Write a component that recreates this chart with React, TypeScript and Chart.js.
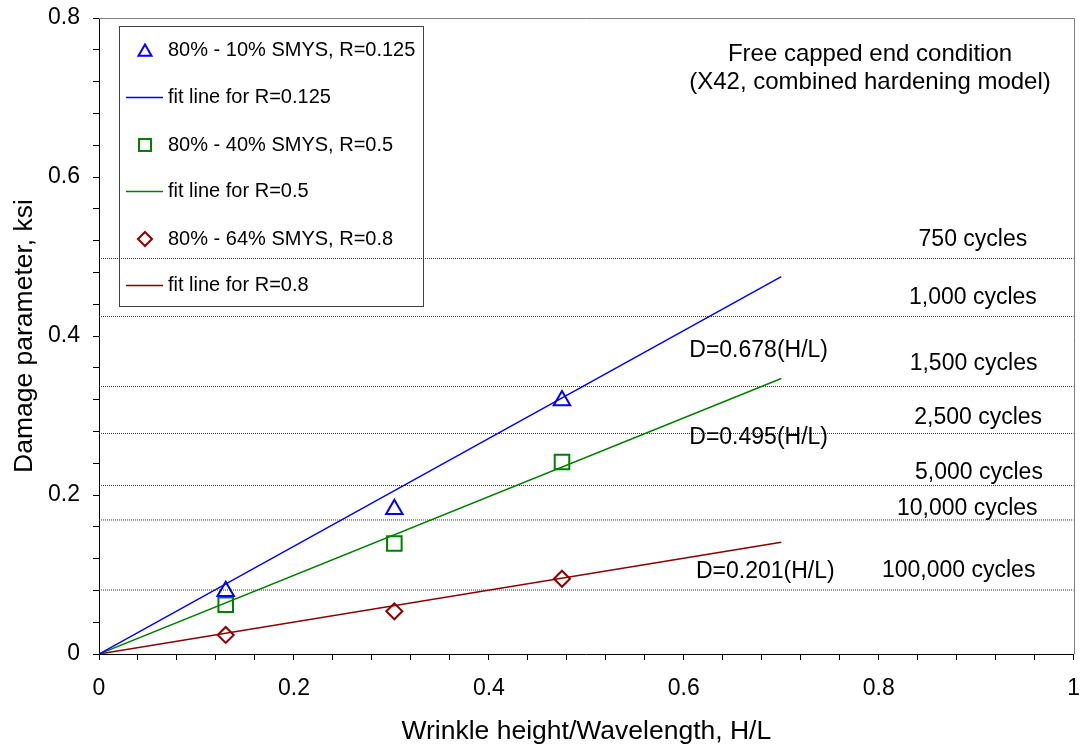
import React, { useEffect, useRef } from 'react';
import { Chart, registerables } from 'chart.js';

Chart.register(...registerables);

const FONT = '"Liberation Sans", Arial, Helvetica, sans-serif';

// ---- data ----
const hlRatios = [0.13, 0.303, 0.475];
const damageR0125 = [0.079, 0.182, 0.319];
const damageR05 = [0.062, 0.139, 0.2415];
const damageR08 = [0.024, 0.0537, 0.0947];

const fitX = [0, 0.7];
const fitR0125 = [0, 0.4746];
const fitR05 = [0, 0.3465];
const fitR08 = [0, 0.1407];

const cycleLabels = ['750 cycles', '1,000 cycles', '1,500 cycles', '2,500 cycles', '5,000 cycles', '10,000 cycles', '100,000 cycles'];
const cycleLevels = [0.4975, 0.4245, 0.3365, 0.2774, 0.2119, 0.1686, 0.0805];

const fitLabels = ['D=0.678(H/L)', 'D=0.495(H/L)', 'D=0.201(H/L)'];

const legendLabels = [
  '80% - 10% SMYS, R=0.125',
  'fit line for R=0.125',
  '80% - 40% SMYS, R=0.5',
  'fit line for R=0.5',
  '80% - 64% SMYS, R=0.8',
  'fit line for R=0.8',
];

const titleLines = ['Free capped end condition', '(X42, combined hardening model)'];

const xTickLabels = ['0', '0.2', '0.4', '0.6', '0.8', '1'];
const yTickLabels = ['0', '0.2', '0.4', '0.6', '0.8'];
const xTitle = 'Wrinkle height/Wavelength, H/L';
const yTitle = 'Damage parameter, ksi';

// ---- annotation layout (data coordinates) ----
const cycleLabelPos = [
  [0.8966, 0.5216],
  [0.8966, 0.4487],
  [0.8973, 0.3657],
  [0.902, 0.2977],
  [0.9028, 0.2286],
  [0.8908, 0.1833],
  [0.882, 0.1048],
];
const fitLabelPos = [
  [0.6056, 0.3815],
  [0.6056, 0.2726],
  [0.6124, 0.1035],
];

// ---- styles ----
const BLUE = '#0000ff';
const GREEN = '#008000';
const RED = '#8b0000';

const minorTicks = (max: number, step: number) => {
  const out: { value: number }[] = [];
  const n = Math.round(max / step);
  for (let i = 0; i <= n; i++) out.push({ value: Math.round(i * step * 1e6) / 1e6 });
  return out;
};

const labelFor = (v: number, labels: string[]) => {
  const hit = labels.find((l) => Math.abs(Number(l) - v) < 1e-6);
  return hit === undefined ? '' : hit;
};

const pts = (xs: number[], ys: number[]) => xs.map((x, i) => ({ x, y: ys[i] }));

const overlayPlugin = {
  id: 'overlay',
  afterDraw(chart: any) {
    const { ctx, chartArea, scales } = chart;
    const xs = scales.x;
    const ys = scales.y;
    ctx.save();
    // top/right frame
    ctx.strokeStyle = '#808080';
    ctx.lineWidth = 1;
    ctx.beginPath();
    ctx.moveTo(chartArea.left, Math.round(chartArea.top) + 0.5);
    ctx.lineTo(Math.round(chartArea.right) + 0.5, Math.round(chartArea.top) + 0.5);
    ctx.lineTo(Math.round(chartArea.right) + 0.5, chartArea.bottom);
    ctx.stroke();

    ctx.fillStyle = '#000';
    ctx.textBaseline = 'middle';

    // title
    ctx.font = `24px ${FONT}`;
    ctx.textAlign = 'center';
    ctx.fillText(titleLines[0], 870, 54.5);
    ctx.fillText(titleLines[1], 870, 82);

    // cycle labels
    ctx.font = `23px ${FONT}`;
    cycleLabels.forEach((t, i) => {
      ctx.fillText(t, xs.getPixelForValue(cycleLabelPos[i][0]), ys.getPixelForValue(cycleLabelPos[i][1]));
    });
    // fit labels
    ctx.textAlign = 'left';
    fitLabels.forEach((t, i) => {
      ctx.fillText(t, xs.getPixelForValue(fitLabelPos[i][0]), ys.getPixelForValue(fitLabelPos[i][1]));
    });

    // legend
    const bx = 119.5, by = 26.5, bw = 304, bh = 280;
    ctx.strokeStyle = '#404040';
    ctx.lineWidth = 1;
    ctx.strokeRect(bx, by, bw, bh);
    const rowY = [50, 97.5, 145, 191.5, 239, 285.5];
    const colors = [BLUE, BLUE, GREEN, GREEN, RED, RED];
    const mx = 145;
    ctx.font = `20px ${FONT}`;
    legendLabels.forEach((t, i) => {
      const y = rowY[i];
      ctx.strokeStyle = colors[i];
      if (i % 2 === 1) {
        ctx.lineWidth = 1.5;
        ctx.beginPath();
        ctx.moveTo(126, y);
        ctx.lineTo(163, y);
        ctx.stroke();
      } else {
        ctx.lineWidth = 2;
        ctx.beginPath();
        if (i === 0) {
          const r = 7.5;
          const cy = y + r / 4;
          ctx.moveTo(mx, cy - r);
          ctx.lineTo(mx + r * Math.sin(Math.PI / 3), cy + r / 2);
          ctx.lineTo(mx - r * Math.sin(Math.PI / 3), cy + r / 2);
          ctx.closePath();
        } else if (i === 2) {
          ctx.rect(mx - 6, y - 6, 12, 12);
        } else {
          const r = 7;
          ctx.moveTo(mx - r, y);
          ctx.lineTo(mx, y - r);
          ctx.lineTo(mx + r, y);
          ctx.lineTo(mx, y + r);
          ctx.closePath();
        }
        ctx.stroke();
      }
      ctx.fillStyle = '#000';
      ctx.fillText(t, 168, y);
    });
    ctx.restore();
  },
};

export default function App() {
  const ref = useRef<HTMLCanvasElement | null>(null);

  useEffect(() => {
    if (!ref.current) return;
    Chart.defaults.color = '#000';
    const dotted = cycleLevels.map((v) => ({
      type: 'line' as const,
      data: [
        { x: 0, y: v },
        { x: 1, y: v },
      ],
      borderColor: '#3a3a3a',
      borderWidth: 1,
      borderDash: [1, 1],
      pointRadius: 0,
      showLine: true,
      fill: false,
    }));
    const chart = new Chart(ref.current, {
      type: 'scatter',
      data: {
        datasets: [
          {
            data: pts(hlRatios, damageR0125),
            pointStyle: 'triangle',
            pointRadius: 9.5,
            pointBorderWidth: 2,
            pointBorderColor: BLUE,
            pointBackgroundColor: 'rgba(0,0,0,0)',
            showLine: false,
          },
          {
            data: pts(hlRatios, damageR05),
            pointStyle: 'rect',
            pointRadius: 10.3,
            pointBorderWidth: 2,
            pointBorderColor: GREEN,
            pointBackgroundColor: 'rgba(0,0,0,0)',
            showLine: false,
          },
          {
            data: pts(hlRatios, damageR08),
            pointStyle: 'rectRot',
            pointRadius: 8,
            pointBorderWidth: 2,
            pointBorderColor: RED,
            pointBackgroundColor: 'rgba(0,0,0,0)',
            showLine: false,
          },
          {
            data: pts(fitX, fitR0125),
            showLine: true,
            pointRadius: 0,
            borderColor: BLUE,
            borderWidth: 1.5,
          },
          {
            data: pts(fitX, fitR05),
            showLine: true,
            pointRadius: 0,
            borderColor: GREEN,
            borderWidth: 1.5,
          },
          {
            data: pts(fitX, fitR08),
            showLine: true,
            pointRadius: 0,
            borderColor: RED,
            borderWidth: 1.5,
          },
          ...dotted,
        ] as any,
      },
      options: {
        animation: false,
        responsive: false,
        devicePixelRatio: 1,
        events: [],
        layout: { padding: { top: 18, right: 7, left: 0, bottom: 0 } },
        plugins: { legend: { display: false }, tooltip: { enabled: false } },
        scales: {
          x: {
            type: 'linear',
            min: 0,
            max: 1,
            afterBuildTicks: (s: any) => {
              s.ticks = minorTicks(1, 0.04);
            },
            afterFit: (s: any) => {
              s.height = 95;
              s.paddingLeft = 0;
              s.paddingRight = 0;
            },
            grid: { drawOnChartArea: false, drawTicks: true, tickLength: 6, color: '#000', lineWidth: 1 },
            border: { display: true, color: '#000', width: 1 },
            ticks: {
              autoSkip: false,
              maxRotation: 0,
              minRotation: 0,
              padding: 15,
              color: '#000',
              font: { family: FONT, size: 23 },
              callback: (v: any) => labelFor(Number(v), xTickLabels),
            },
            title: {
              display: true,
              text: xTitle,
              color: '#000',
              font: { family: FONT, size: 26.5 },
              padding: { top: 0, bottom: 1 },
            },
          },
          y: {
            type: 'linear',
            min: 0,
            max: 0.8,
            afterBuildTicks: (s: any) => {
              s.ticks = minorTicks(0.8, 0.04);
            },
            afterFit: (s: any) => {
              s.width = 99;
              s.paddingTop = 0;
              s.paddingBottom = 0;
            },
            grid: { drawOnChartArea: false, drawTicks: true, tickLength: 6, color: '#000', lineWidth: 1 },
            border: { display: true, color: '#000', width: 1 },
            ticks: {
              autoSkip: false,
              padding: 13,
              color: '#000',
              font: { family: FONT, size: 23 },
              callback: (v: any) => labelFor(Number(v), yTickLabels),
            },
            title: {
              display: true,
              text: yTitle,
              color: '#000',
              font: { family: FONT, size: 26.5 },
              padding: { top: 9, bottom: 0 },
            },
          },
        },
      } as any,
      plugins: [overlayPlugin],
    });
    return () => chart.destroy();
  }, []);

  return (
    <div style={{ position: 'absolute', left: 0, top: 0, width: 1086, height: 749, background: '#fff' }}>
      <canvas ref={ref} width={1086} height={749} style={{ display: 'block' }} />
    </div>
  );
}
